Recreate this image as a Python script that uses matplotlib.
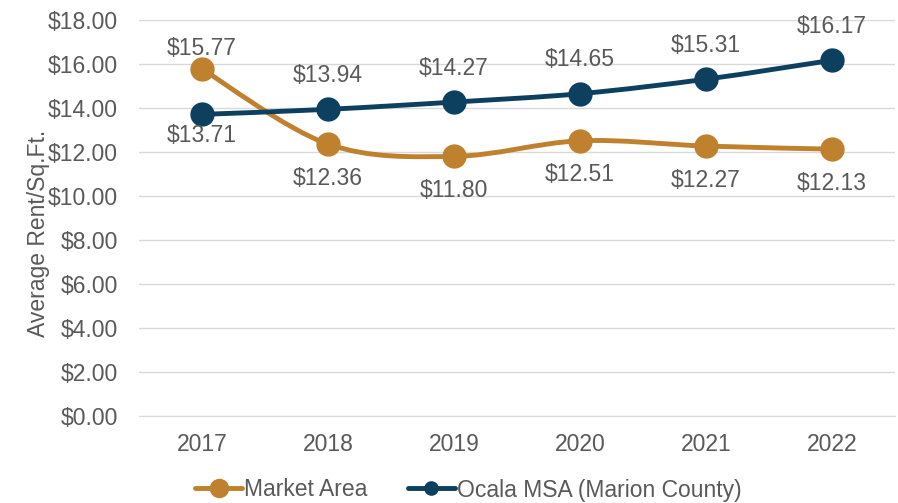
import numpy as np
import matplotlib
matplotlib.use("Agg")
import matplotlib.pyplot as plt
from matplotlib.path import Path
from matplotlib.patches import PathPatch

years = ["2017", "2018", "2019", "2020", "2021", "2022"]
market_area = [15.77, 12.36, 11.80, 12.51, 12.27, 12.13]
ocala_msa = [13.71, 13.94, 14.27, 14.65, 15.31, 16.17]
yticks = [0, 2, 4, 6, 8, 10, 12, 14, 16, 18]

ORANGE = "#BF812D"
NAVY = "#0D3F5F"
TXT = "#595959"
FS = 16.5
plt.rcParams['font.family'] = ['Liberation Sans', 'DejaVu Sans']

fig = plt.figure(figsize=(8.98, 5.03), dpi=100)
ax = fig.add_axes([139/898, 1 - 416/503, (895-139)/898, (416-20)/503])
x = np.arange(len(years))

def smooth_path(xs, ys, t=1/6):
    verts = [(xs[0], ys[0])]
    codes = [Path.MOVETO]
    n = len(xs)
    for i in range(n - 1):
        p0 = (xs[max(i-1, 0)], ys[max(i-1, 0)])
        p1 = (xs[i], ys[i])
        p2 = (xs[i+1], ys[i+1])
        p3 = (xs[min(i+2, n-1)], ys[min(i+2, n-1)])
        c1 = (p1[0] + (p2[0]-p0[0])*t, p1[1] + (p2[1]-p0[1])*t)
        c2 = (p2[0] - (p3[0]-p1[0])*t, p2[1] - (p3[1]-p1[1])*t)
        verts += [c1, c2, p2]
        codes += [Path.CURVE4]*3
    return Path(verts, codes)

series = [
    (market_area, ORANGE, "Market Area", [14.5, -24.5, -24.5, -24.5, -24.5, -24.5], 13),
    (ocala_msa, NAVY, "Ocala MSA (Marion County)", [-15, 24.5, 24.5, 24.5, 24.5, 24.5], 9.5),
]
for vals, col, lab, offs, lms in series:
    ax.add_patch(PathPatch(smooth_path(x, vals), fill=False, edgecolor=col, lw=3.5, zorder=3, capstyle='round'))
    ax.plot(x, vals, 'o', color=col, markersize=16.5, zorder=4)
    ax.plot([], [], '-o', color=col, lw=3.5, markersize=lms, label=lab, solid_capstyle='round')
    for xi, v, o in zip(x, vals, offs):
        ax.annotate(f"${v:.2f}", (xi, v), xytext=(0, o), textcoords='offset points',
                    ha='center', va='center', fontsize=FS, color=TXT, zorder=5)

ax.set_xlim(-0.5, len(years) - 0.5)
ax.set_ylim(0, 18)
ax.set_yticks(yticks)
ax.set_yticklabels([f"${v:.2f}" for v in yticks])
ax.set_xticks(x)
ax.set_xticklabels(years)
ax.grid(axis='y', color='#D9D9D9', lw=1)
ax.set_axisbelow(True)
for s in ['top', 'right', 'left']:
    ax.spines[s].set_visible(False)
ax.spines['bottom'].set_color('#D9D9D9')
ax.tick_params(length=0, labelsize=FS, colors=TXT, pad=15)
ax.tick_params(axis='x', pad=12)
ax.set_ylabel("Average Rent/Sq.Ft.", fontsize=FS, color=TXT)
ax.yaxis.set_label_coords((50 - 139) / 756, (416 - 233) / 396)

fig.legend(loc='center', bbox_to_anchor=(468.5/898, 1 - 490/503), ncol=2, frameon=False,
           fontsize=FS, labelcolor=TXT, handlelength=2.05, handletextpad=0.1, columnspacing=1.75)
fig.savefig("out.png", dpi=100)
